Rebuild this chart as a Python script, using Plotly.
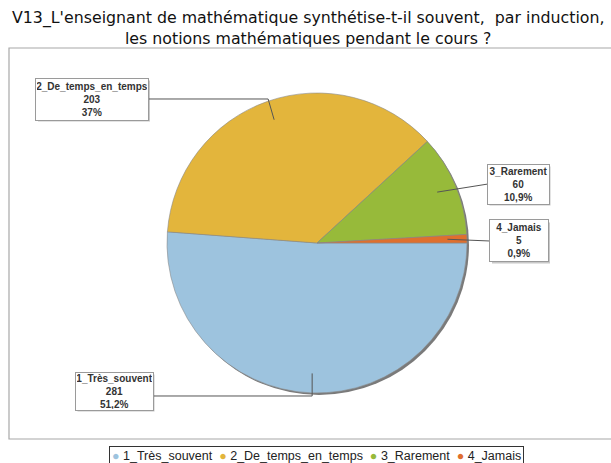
import math
import plotly.graph_objects as go

W, H = 611, 463

categories = ["1_Très_souvent", "2_De_temps_en_temps", "3_Rarement", "4_Jamais"]
counts = [281, 203, 60, 5]
pct_labels = ["51,2%", "37%", "10,9%", "0,9%"]
colors = ["#9DC3DE", "#E3B53C", "#97BA3A", "#DF6F2E"]
title_lines = ["V13_L'enseignant de mathématique synthétise-t-il souvent,  par induction,",
               "les notions mathématiques pendant le cours ?"]

# pie geometry (pixels)
CX, CY, R = 317, 243, 150


def px(x):
    return x / W


def py(y):
    return 1 - y / H


fig = go.Figure()

fig.add_trace(go.Pie(
    labels=categories, values=counts, sort=False, direction="clockwise",
    rotation=90, textinfo="none", hoverinfo="label+value+percent",
    marker=dict(colors=colors, line=dict(color="#8A8A8A", width=0.6)),
    domain=dict(x=[px(CX - R), px(CX + R)], y=[py(CY + R), py(CY - R)]),
    showlegend=False,
))

shapes = []
# shadow behind pie
shapes.append(dict(type="circle", xref="paper", yref="paper", layer="below",
                   x0=px(CX - R + 2), x1=px(CX + R + 2), y0=py(CY + R + 2), y1=py(CY - R + 2),
                   fillcolor="#7A7A7A", line=dict(width=0)))
# outer frame
shapes.append(dict(type="rect", xref="paper", yref="paper", layer="below",
                   x0=px(9), x1=px(640), y0=py(439), y1=py(48),
                   line=dict(color="#A8A8A8", width=1.2), fillcolor="rgba(0,0,0,0)"))

# leader-line anchors computed from slice mid angles
total = sum(counts)
mids = []
acc = 0
for v in counts:
    mids.append((acc + v / 2) / total * 360)
    acc += v


def anchor(i, f=0.87):
    a = math.radians(mids[i])
    return CX + math.cos(a) * R * f, CY + math.sin(a) * R * f

# box layout (pixels): center x, center y, width, height, connection point, bend
boxes = [
    dict(cx=114, cy=391, w=77, h=37, conn=(152, 396), bend="v"),
    dict(cx=92, cy=99, w=112, h=41, conn=(148, 99), bend="d"),
    dict(cx=518, cy=184, w=61, h=39, conn=(488, 184), bend=None),
    dict(cx=519, cy=241, w=58, h=41, conn=(490, 241), bend=None),
]

annotations = []
for i, b in enumerate(boxes):
    ax_, ay_ = anchor(i)
    cxp, cyp = b["conn"]
    if b["bend"] == "v":
        pts = [(ax_, ay_), (ax_, cyp), (cxp, cyp)]
    elif b["bend"] == "d":
        pts = [(ax_, ay_), (ax_ - 6, cyp), (cxp, cyp)]
    else:
        pts = [(ax_, ay_), (cxp, cyp)]
    path = "M " + " L ".join(f"{px(x):.5f},{py(y):.5f}" for x, y in pts)
    shapes.append(dict(type="path", xref="paper", yref="paper", path=path,
                       line=dict(color="#555555", width=1)))
    # box shadow
    shapes.append(dict(type="rect", xref="paper", yref="paper", layer="below",
                       x0=px(b["cx"] - b["w"] / 2 + 2), x1=px(b["cx"] + b["w"] / 2 + 2),
                       y0=py(b["cy"] + b["h"] / 2 + 2), y1=py(b["cy"] - b["h"] / 2 + 2),
                       fillcolor="#C8C8C8", line=dict(width=0)))
    annotations.append(dict(
        xref="paper", yref="paper", x=px(b["cx"]), y=py(b["cy"]),
        xanchor="center", yanchor="middle", showarrow=False,
        text=f"<b>{categories[i]}</b><br><b>{counts[i]}</b><br><b>{pct_labels[i]}</b>",
        font=dict(family="Liberation Sans, Arial", size=10, color="#333333"),
        bgcolor="white", bordercolor="#9A9A9A", borderwidth=1,
        width=b["w"] - 2, height=b["h"] - 2, align="center",
    ))

# title
annotations.append(dict(
    xref="paper", yref="paper", x=px(308), y=py(28), xanchor="center", yanchor="middle",
    showarrow=False, text="<br>".join(title_lines), align="center",
    font=dict(family="DejaVu Sans, Verdana", size=15.8, color="#111111"),
))

# legend (single bordered text line with coloured dots)
legend_text = "  ".join(
    f'<span style="color:{col}">●</span> {c}' for c, col in zip(categories, colors))
annotations.append(dict(
    xref="paper", yref="paper", x=px(316), y=py(456), xanchor="center", yanchor="middle",
    showarrow=False, text=legend_text,
    font=dict(family="Liberation Sans, Arial", size=12.5, color="#222222"),
    bgcolor="white", bordercolor="#333333", borderwidth=1, borderpad=2,
))

fig.update_layout(
    width=W, height=H,
    margin=dict(l=0, r=0, t=0, b=0, autoexpand=False),
    paper_bgcolor="white", plot_bgcolor="white",
    showlegend=False,
    shapes=shapes,
    annotations=annotations,
)

fig.write_html("out.html", config={"displayModeBar": False},
               post_script="document.body.style.margin='0px';")
